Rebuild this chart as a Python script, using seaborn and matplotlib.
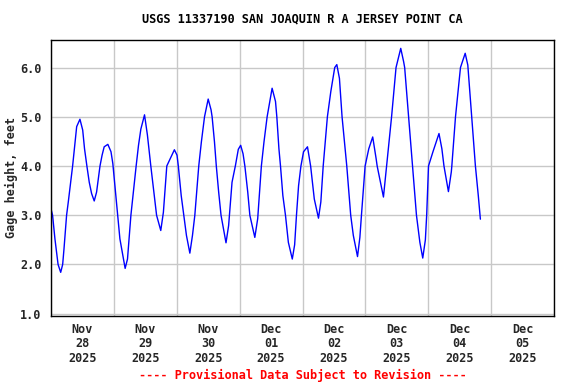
import pandas as pd
import matplotlib
matplotlib.use("Agg")
import matplotlib.pyplot as plt
import matplotlib.dates as mdates
import seaborn as sns

# hours after 2025-11-28 00:00 and gage height (feet)
hours = [0.0, 0.6, 1.5, 2.3, 2.7, 3.7, 4.45, 4.95, 5.95, 6.6, 7.5, 8.25, 9.0, 9.8,
         11.05, 12.1, 12.8, 13.7, 14.6, 15.5, 16.5, 17.4, 18.7, 19.5, 20.3, 21.7,
         22.9, 23.6, 24.3, 25.4, 26.3, 28.3, 29.2, 30.5, 31.5, 32.5, 33.4, 34.3,
         35.7, 36.8, 38.1, 39.1, 40.3, 41.9, 42.9, 44.2, 45.5, 47.1, 48.1, 48.6,
         49.7, 50.7, 51.7, 53.0, 54.0, 54.9, 55.8, 56.4, 57.4, 58.6, 60.0, 61.1,
         61.5, 62.4, 63.1, 64.0, 64.9, 66.8, 67.8, 69.1, 70.4, 71.5, 72.4, 73.3,
         74.0, 75.1, 75.9, 77.8, 78.9, 80.3, 81.3, 82.5, 84.4, 85.7, 86.2, 87.0,
         87.6, 88.5, 89.5, 90.6, 92.1, 93.0, 93.7, 94.5, 95.4, 96.4, 97.9, 99.1,
         100.5, 102.1, 103.0, 103.9, 105.5, 106.8, 108.3, 109.1, 110.1, 111.1,
         112.9, 114.4, 115.4, 117.0, 117.9, 118.5, 119.9, 121.3, 122.8, 124.1,
         124.5, 126.9, 127.9, 128.1, 130.0, 131.7, 133.5, 134.6, 135.0, 136.5,
         138.0, 139.5, 140.8, 141.9, 142.9, 143.4, 144.1, 145.8, 148.1, 149.2,
         150.0, 151.7, 152.8, 153.0, 154.4, 156.3, 158.1, 159.1, 160.6, 162.0,
         163.1, 163.9]
height = [3.13, 3.00, 2.52, 2.18, 2.00, 1.84, 2.00, 2.31, 3.00, 3.27, 3.67, 4.00, 4.39, 4.80,
          4.95, 4.73, 4.35, 4.00, 3.67, 3.44, 3.29, 3.47, 4.00, 4.22, 4.39, 4.44,
          4.29, 4.05, 3.65, 3.00, 2.52, 1.92, 2.11, 3.00, 3.50, 4.00, 4.42, 4.75,
          5.04, 4.63, 4.00, 3.54, 3.00, 2.69, 3.06, 4.00, 4.15, 4.33, 4.22, 4.00,
          3.40, 3.00, 2.59, 2.23, 2.59, 3.00, 3.61, 4.00, 4.49, 5.00, 5.36, 5.14,
          5.00, 4.49, 4.00, 3.47, 3.00, 2.44, 2.79, 3.67, 4.01, 4.34, 4.42, 4.25,
          4.00, 3.47, 3.00, 2.55, 2.93, 4.00, 4.49, 5.00, 5.58, 5.31, 5.00, 4.35,
          4.00, 3.40, 3.00, 2.45, 2.11, 2.40, 3.00, 3.60, 4.00, 4.29, 4.39, 4.00,
          3.33, 2.94, 3.27, 4.00, 5.00, 5.51, 6.00, 6.06, 5.78, 5.00,
          4.00, 3.00, 2.59, 2.16, 2.55, 3.00, 4.00, 4.35, 4.59, 4.15,
          4.00, 3.37, 3.88, 4.00, 5.00, 6.00, 6.39, 6.12, 6.00, 5.00,
          4.00, 3.00, 2.45, 2.13, 2.50, 3.00, 4.00, 4.29, 4.66, 4.35,
          4.00, 3.48, 3.88, 4.00, 5.00, 6.00, 6.29, 6.05, 5.00, 4.00,
          3.40, 2.92]

start = pd.Timestamp("2025-11-28 00:00")
end = pd.Timestamp("2025-12-06 00:00")
df = pd.DataFrame({"time": start + pd.to_timedelta(hours, unit="h"), "gage": height})

sns.set_style("white")
plt.rcParams["font.family"] = ["DejaVu Sans Mono"]
plt.rcParams["font.weight"] = "bold"

fig = plt.figure(figsize=(5.76, 3.84), dpi=100)
ax = fig.add_axes([51 / 576, 1 - 316 / 384, 503 / 576, 276.5 / 384])

sns.lineplot(data=df, x="time", y="gage", color="#0000ff", lw=1, ax=ax)

ax.set_xlim(start, end)
ax.set_ylim(0.953, 6.57)
ax.set_yticks([1, 2, 3, 4, 5, 6])
ax.set_yticklabels(["1.0", "2.0", "3.0", "4.0", "5.0", "6.0"], fontsize=8.5, fontweight="bold")

ax.xaxis.set_major_locator(mdates.DayLocator())
ax.xaxis.set_major_formatter(plt.NullFormatter())
ax.xaxis.set_minor_locator(mdates.HourLocator(byhour=12))
ax.xaxis.set_minor_formatter(mdates.DateFormatter("%b\n%d\n%Y"))
for lab in ax.xaxis.get_minorticklabels():
    lab.set_fontsize(8.5)
    lab.set_fontweight("bold")
    lab.set_linespacing(1.15)

ax.tick_params(axis="both", which="both", length=0)
ax.tick_params(axis="x", which="minor", pad=5)
ax.tick_params(axis="y", pad=7)

ax.grid(True, which="major", color="#c8c8c8", lw=1)
ax.set_axisbelow(True)
for s in ax.spines.values():
    s.set_color("black")
    s.set_linewidth(1)

ax.set_xlabel("")
ax.set_ylabel("Gage height, feet", fontsize=8.5, fontweight="bold")
ax.yaxis.set_label_coords(-0.066, 0.5)

fig.text(302.5 / 576, 1 - 19 / 384, "USGS 11337190 SAN JOAQUIN R A JERSEY POINT CA",
         ha="center", va="center", fontsize=8.6, fontweight="bold", color="black")
fig.text(302.5 / 576, 1 - 375 / 384, "---- Provisional Data Subject to Revision ----",
         ha="center", va="center", fontsize=8.6, fontweight="bold", color="#ff0000")

fig.savefig("out.png", dpi=100)
